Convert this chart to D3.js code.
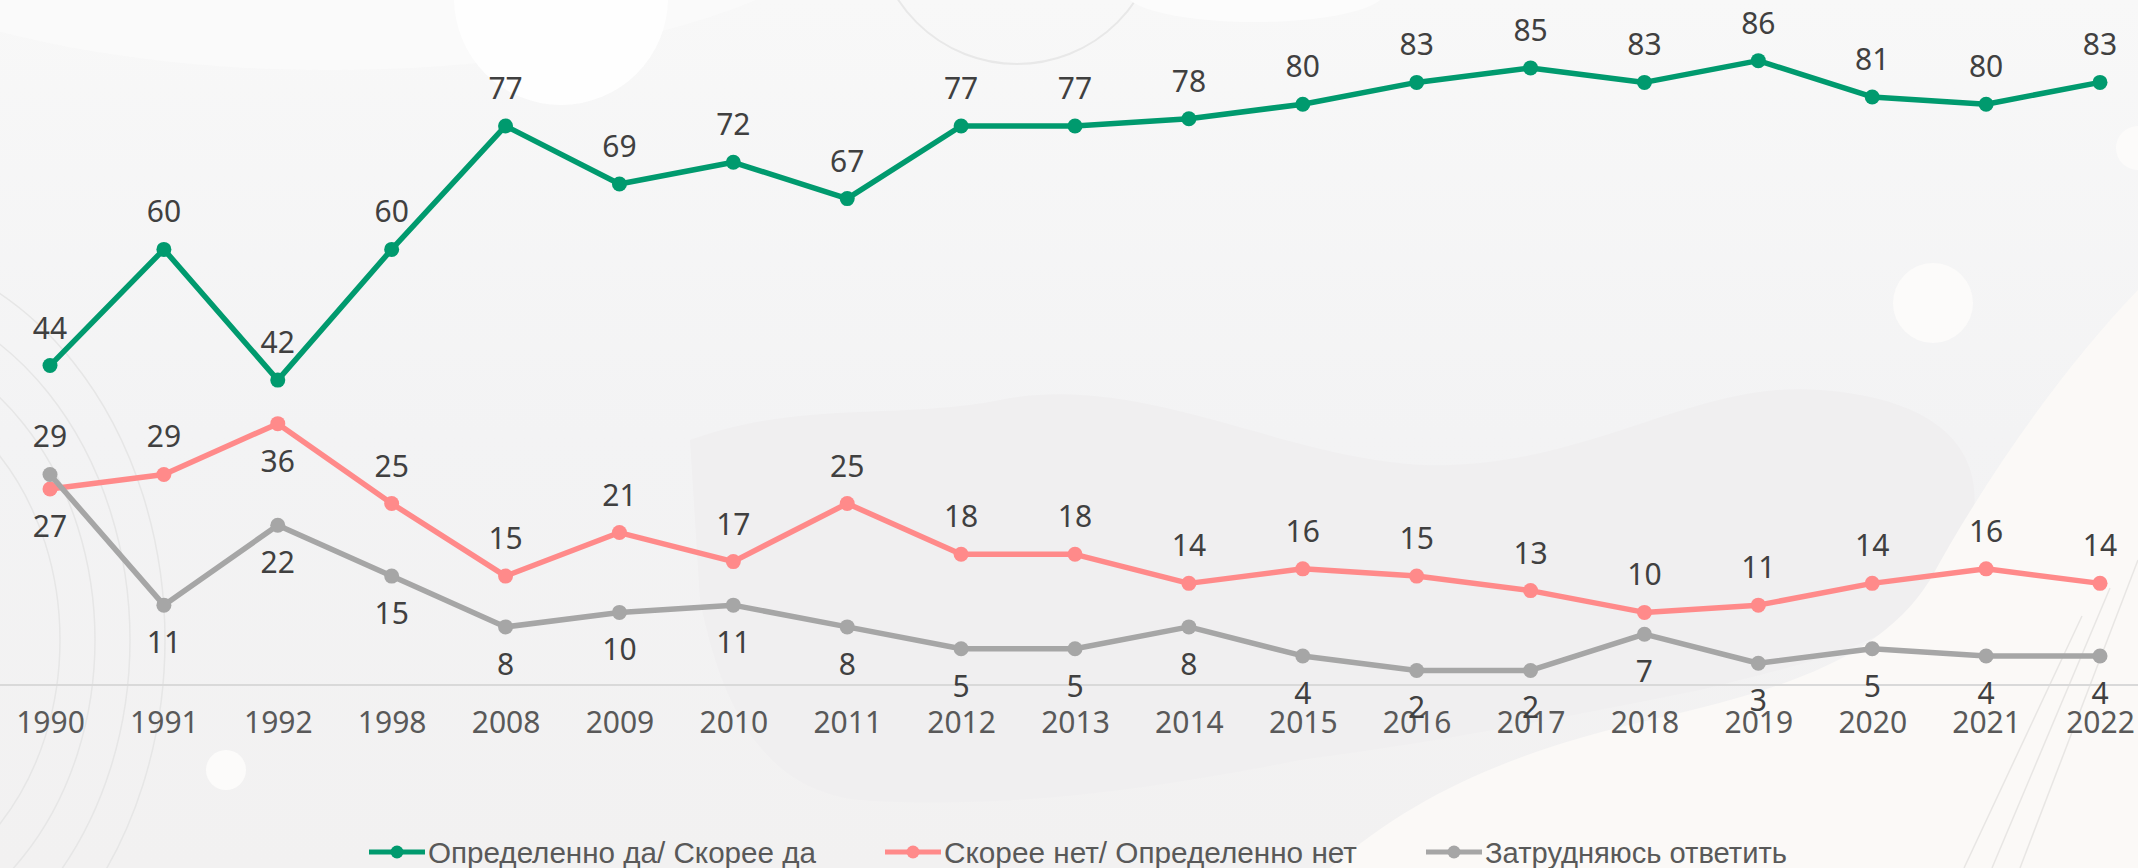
<!DOCTYPE html>
<html>
<head>
<meta charset="utf-8">
<script src="https://cdn.jsdelivr.net/npm/d3@7"></script>
<style>
  html, body { margin: 0; padding: 0; background: #f3f3f3; }
  svg { display: block; }
</style>
</head>
<body>
<script>
const years = ["1990", "1991", "1992", "1998", "2008", "2009", "2010", "2011", "2012", "2013",
               "2014", "2015", "2016", "2017", "2018", "2019", "2020", "2021", "2022"];
const yesValues = [44, 60, 42, 60, 77, 69, 72, 67, 77, 77, 78, 80, 83, 85, 83, 86, 81, 80, 83];
const noValues = [27, 29, 36, 25, 15, 21, 17, 25, 18, 18, 14, 16, 15, 13, 10, 11, 14, 16, 14];
const hardValues = [29, 11, 22, 15, 8, 10, 11, 8, 5, 5, 8, 4, 2, 2, 7, 3, 5, 4, 4];
const seriesNames = ["Определенно да/ Скорее да", "Скорее нет/ Определенно нет", "Затрудняюсь ответить"];

const width = 2138, height = 868;
const colors = ["#009a6e", "#ff8a8a", "#a6a6a6"];

const series = [
    {name: seriesNames[0], values: yesValues, color: colors[0], place: () => "above"},
    {name: seriesNames[1], values: noValues, color: colors[1], place: yr => (yr === "1990" || yr === "1992") ? "below" : "above"},
    {name: seriesNames[2], values: hardValues, color: colors[2], place: yr => yr === "1990" ? "above" : "below"}
];

const svg = d3.select("body").append("svg")
    .attr("width", width)
    .attr("height", height);

// background decoration
const defs = svg.append("defs");
const bg = defs.append("linearGradient").attr("id", "bg").attr("x1", 0).attr("y1", 0).attr("x2", 0).attr("y2", 1);
bg.append("stop").attr("offset", "0%").attr("stop-color", "#f8f8f8");
bg.append("stop").attr("offset", "50%").attr("stop-color", "#f3f3f4");
bg.append("stop").attr("offset", "100%").attr("stop-color", "#f2f1f1");

const deco = svg.append("g");
deco.append("rect").attr("width", width).attr("height", height).attr("fill", "url(#bg)");
deco.append("ellipse").attr("cx", 330).attr("cy", -130).attr("rx", 560).attr("ry", 200).attr("fill", "#fafafa");
deco.append("path")
    .attr("d", "M690,440 C800,400 900,420 1000,400 C1150,370 1300,470 1450,465 C1600,460 1700,380 1820,390 C1960,400 2000,470 1960,560 C1920,640 1820,660 1700,690 C1550,720 1450,740 1300,760 C1150,790 1000,810 860,800 C760,790 720,700 700,600 Z")
    .attr("fill", "#f0eff0");
deco.append("path")
    .attr("d", "M2138,290 C2070,360 1990,470 1930,580 C1880,660 1780,690 1650,720 C1520,750 1420,790 1330,868 L2138,868 Z")
    .attr("fill", "#fbf9f7");
deco.append("ellipse").attr("cx", 561).attr("cy", -2).attr("rx", 107).attr("ry", 107).attr("fill", "#fefefe");
deco.append("circle").attr("cx", 1017).attr("cy", -78).attr("r", 142)
    .attr("fill", "none").attr("stroke", "#e8e8e8").attr("stroke-width", 2);
deco.append("ellipse").attr("cx", 1255).attr("cy", -8).attr("rx", 130).attr("ry", 30).attr("fill", "#fcfcfc");
deco.append("circle").attr("cx", 1933).attr("cy", 303).attr("r", 40).attr("fill", "#fcfbfa");
deco.append("circle").attr("cx", 2138).attr("cy", 148).attr("r", 22).attr("fill", "#fcfbfa");
deco.append("ellipse").attr("cx", 226).attr("cy", 770).attr("rx", 20).attr("ry", 20).attr("fill", "#fcfbfa");
[210, 245, 280, 315].forEach(r => {
    deco.append("ellipse").attr("cx", -150).attr("cy", 640).attr("rx", r).attr("ry", r * 1.25)
        .attr("fill", "none").attr("stroke", "#e6e6e6").attr("stroke-width", 1.5);
});
[0, 28, 56].forEach(o => {
    deco.append("line").attr("x1", 2138 - o).attr("y1", 560 + o).attr("x2", 2020 - o).attr("y2", 868)
        .attr("stroke", "#e8e6e4").attr("stroke-width", 1.5);
});

// scales
const x = d3.scalePoint().domain(years).range([50, 2100]);
const y = d3.scaleLinear().domain([0, 90]).range([685, 31.6]);

// x axis
svg.append("line")
    .attr("x1", 0).attr("x2", width)
    .attr("y1", y(0)).attr("y2", y(0))
    .attr("stroke", "#d9d9d9").attr("stroke-width", 2);

const axis = svg.append("g")
    .attr("transform", "translate(0," + y(0) + ")")
    .call(d3.axisBottom(x).tickSize(0).tickPadding(27));
axis.select(".domain").remove();
axis.selectAll("text")
    .style("font", "30px 'Noto Sans', 'Liberation Sans', sans-serif")
    .attr("fill", "#595959");

const line = d3.line()
    .x((d, i) => x(years[i]))
    .y(d => y(d));

const groups = svg.selectAll(".series")
    .data(series)
    .enter().append("g")
    .attr("class", "series");

groups.append("path")
    .attr("d", d => line(d.values))
    .attr("fill", "none")
    .attr("stroke", d => d.color)
    .attr("stroke-width", 5.5)
    .attr("stroke-linejoin", "round");

groups.selectAll("circle")
    .data(d => d.values.map((v, i) => ({v: v, yr: years[i], color: d.color})))
    .enter().append("circle")
    .attr("cx", d => x(d.yr))
    .attr("cy", d => y(d.v))
    .attr("r", 7.5)
    .attr("fill", d => d.color);

groups.selectAll(".lbl")
    .data(d => d.values.map((v, i) => ({v: v, yr: years[i], pos: d.place(years[i])})))
    .enter().append("text")
    .attr("class", "lbl")
    .attr("x", d => x(d.yr))
    .attr("y", d => y(d.v) + (d.pos === "above" ? -27 : 48))
    .attr("text-anchor", "middle")
    .style("font", "30px 'Noto Sans', 'Liberation Sans', sans-serif")
    .attr("fill", "#404040")
    .text(d => d.v);

// legend
const legendItems = [
    {name: seriesNames[0], color: colors[0], x0: 369, w: 388},
    {name: seriesNames[1], color: colors[1], x0: 885, w: 413},
    {name: seriesNames[2], color: colors[2], x0: 1426, w: 302}
];
const legend = svg.append("g").selectAll("g")
    .data(legendItems)
    .enter().append("g")
    .attr("transform", d => "translate(" + d.x0 + ",852)");
legend.append("line")
    .attr("x1", 0).attr("x2", 56)
    .attr("stroke", d => d.color).attr("stroke-width", 5);
legend.append("circle")
    .attr("cx", 28).attr("r", 6.5)
    .attr("fill", d => d.color);
legend.append("text")
    .attr("x", 59).attr("y", 11)
    .attr("textLength", d => d.w)
    .attr("lengthAdjust", "spacingAndGlyphs")
    .style("font", "29px 'Liberation Sans', 'Noto Sans', sans-serif")
    .attr("fill", "#595959")
    .text(d => d.name);
</script>
</body>
</html>
